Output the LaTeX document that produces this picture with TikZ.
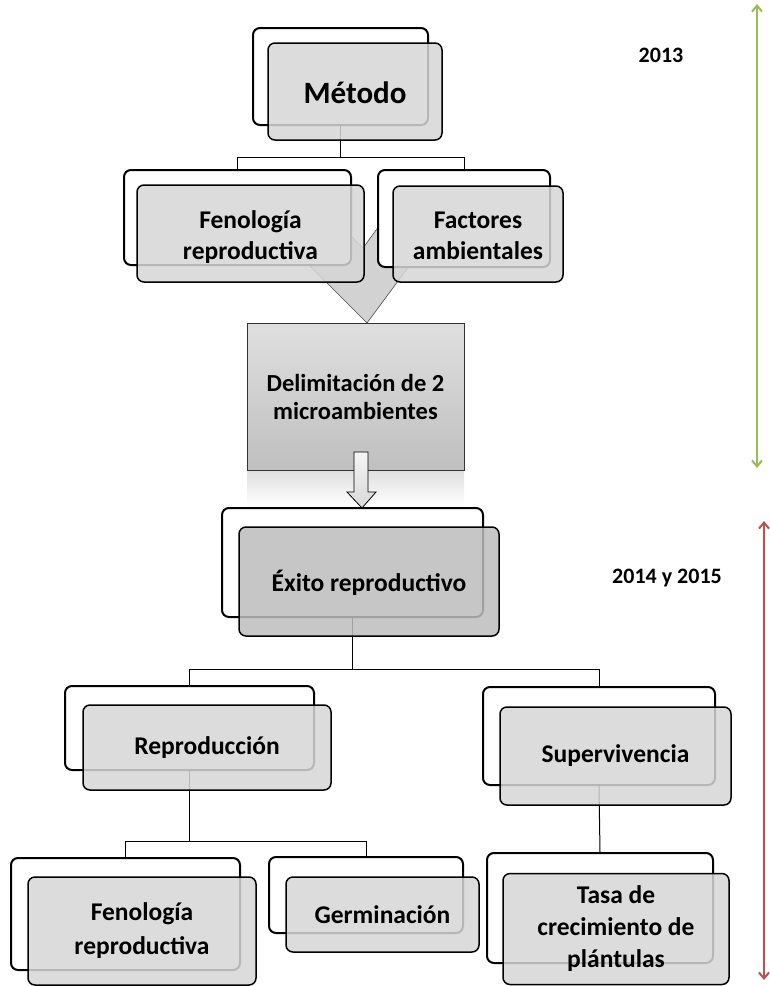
\documentclass[tikz,border=0pt]{standalone}
\usepackage{fontspec}
\setmainfont{Carlito}
\usetikzlibrary{arrows.meta,calc}
\definecolor{boxgray}{gray}{0.84}
\definecolor{darkgray2}{gray}{0.74}
\definecolor{greenarr}{HTML}{9BBB59}
\definecolor{redarr}{HTML}{C0504D}
\newcommand{\lowertext}[2]{\raisebox{-#1}[\dimexpr\height+#1\relax][\dimexpr\depth+#1\relax]{\begin{tabular}{@{}c@{}}#2\end{tabular}}}
\tikzset{
  backbox/.style={draw=black, line width=2pt, fill=white, rounded corners=7pt, inner sep=0pt},
  frontbox/.style={draw=black, line width=1.5pt, fill=boxgray, fill opacity=0.85, text opacity=1, rounded corners=7pt, inner sep=0pt, align=center, font=\bfseries},
  conn/.style={draw=black, line width=1pt},
  yearlbl/.style={font=\bfseries\fontsize{22}{26}\selectfont, inner sep=0pt},
  timearrow/.style={line width=2pt, {Straight Barb[length=6pt,width=10pt]}-{Straight Barb[length=6pt,width=10pt]}},
}
\begin{document}
\begin{tikzpicture}[x=1pt,y=-1pt]
\useasboundingbox (0,0) rectangle (770,986);
% chevron behind
\fill[gray!35, draw=gray!60!black, line width=0.6pt] (367,323) -- (290,246) -- (315,200) -- (363,248) -- (398,200) -- (458,200) -- cycle;
% Delimitacion reflection
\shade[top color=gray!25, bottom color=white] (247,470) rectangle (464,506);
% back boxes
\node[backbox, minimum width=175pt, minimum height=97pt] (MetB) at (340.5,76.5) {};
\node[backbox, minimum width=227pt, minimum height=95pt] (F1B) at (237.5,217.5) {};
\node[backbox, minimum width=172pt, minimum height=97pt] (FaB) at (464,218.5) {};
\node[backbox, minimum width=261pt, minimum height=109pt] (ExB) at (352.5,562.5) {};
\node[backbox, minimum width=249pt, minimum height=84pt] (ReB) at (189.5,728) {};
\node[backbox, minimum width=232pt, minimum height=98pt] (SuB) at (599,736) {};
\node[backbox, minimum width=229pt, minimum height=112pt] (F2B) at (125.5,914) {};
\node[backbox, minimum width=194pt, minimum height=76pt] (GeB) at (366,895) {};
\node[backbox, minimum width=226pt, minimum height=110pt] (TaB) at (600,908) {};
% connectors
\coordinate (j1) at (340.5,157);
\draw[conn] (MetB.south) -- (j1) -| (F1B.north);
\draw[conn] (j1) -| (FaB.north);
\coordinate (j2) at (352.5,669);
\draw[conn] (ExB.south) -- (j2) -| (ReB.north);
\draw[conn] (j2) -| (SuB.north);
\coordinate (j3) at (189.5,841);
\draw[conn] (ReB.south) -- (j3) -| (F2B.north);
\draw[conn] (j3) -| (GeB.north);
\draw[conn] (SuB.south) -- (TaB.north);
% front boxes
\node[frontbox, minimum width=174pt, minimum height=97pt, font=\bfseries\fontsize{31}{34}\selectfont] (MetF) at (355,91.5) {\lowertext{5pt}{Método}};
\node[frontbox, minimum width=227pt, minimum height=97pt, font=\bfseries\fontsize{25.5}{31}\selectfont] (F1F) at (250.5,233.5) {\lowertext{4pt}{Fenología\\reproductiva}};
\node[frontbox, minimum width=170pt, minimum height=96pt, font=\bfseries\fontsize{25.5}{31}\selectfont] (FaF) at (478,234) {\lowertext{4pt}{Factores\\ambientales}};
% Delimitacion box
\node[draw=gray!40!black, line width=1pt, top color=gray!25, bottom color=gray!50, minimum width=217pt, minimum height=147pt, inner sep=0pt, align=center, font=\bfseries\fontsize{24.5}{28}\selectfont] (Del) at (355.5,396.5) {\lowertext{3pt}{Delimitación de 2\\microambientes}};
% block arrow
\draw[line width=0.8pt, top color=gray!8, bottom color=gray!30] (354,452) -- (368,452) -- (368,492) -- (376,492) -- (362,508) -- (347,492) -- (354,492) -- cycle;
\node[frontbox, fill=darkgray2, minimum width=260pt, minimum height=109pt, font=\bfseries\fontsize{25.5}{28}\selectfont] (ExF) at (369,581.5) {\lowertext{3pt}{Éxito reproductivo}};
\node[frontbox, minimum width=248pt, minimum height=85pt, font=\bfseries\fontsize{25.5}{28}\selectfont] (ReF) at (207,747.5) {Reproducción};
\node[frontbox, minimum width=231pt, minimum height=98pt, font=\bfseries\fontsize{25.5}{28}\selectfont] (SuF) at (615.5,756) {Supervivencia};
\node[frontbox, minimum width=228pt, minimum height=108pt, font=\bfseries\fontsize{25.5}{34}\selectfont] (F2F) at (142,931) {Fenología\\reproductiva};
\node[frontbox, minimum width=193pt, minimum height=75pt, font=\bfseries\fontsize{25.5}{28}\selectfont] (GeF) at (382.5,914.5) {Germinación};
\node[frontbox, minimum width=226pt, minimum height=111pt, font=\bfseries\fontsize{25.5}{32}\selectfont] (TaF) at (616,929) {Tasa de\\crecimiento de\\plántulas};
% years
\node[yearlbl] (y1) at (661,55) {2013};
\node[yearlbl] (y2) at (667,578) {2014 y 2015};
% time arrows
\coordinate (g1) at (757,4);
\coordinate (g2) at (757,468);
\coordinate (r1) at (764,521);
\coordinate (r2) at (764,980);
\draw[timearrow, greenarr] (g1) -- (g2);
\draw[timearrow, redarr] (r1) -- (r2);
\end{tikzpicture}
\end{document}
